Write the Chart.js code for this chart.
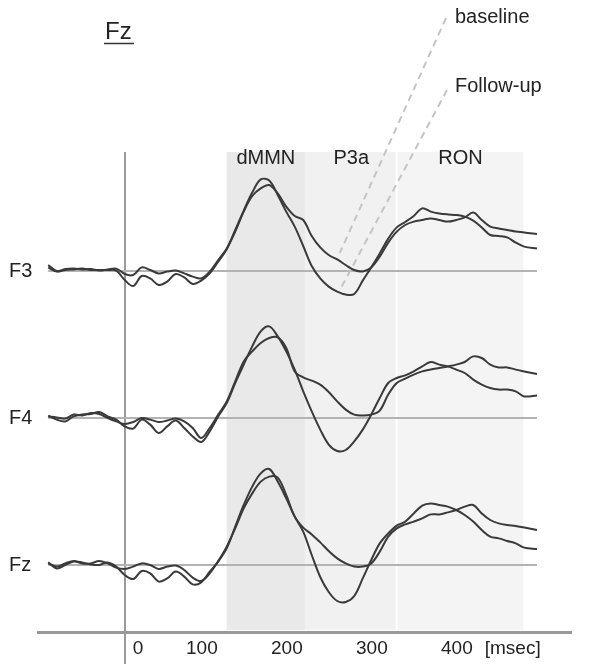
<!DOCTYPE html>
<html>
<head>
<meta charset="utf-8">
<script src="https://cdn.jsdelivr.net/npm/chart.js@4.4.1/dist/chart.umd.min.js"></script>
<style>
  html, body { margin: 0; padding: 0; background: #fff; }
  #erp-chart { display: block; }
</style>
</head>
<body>
<canvas id="erp-chart" width="604" height="664"></canvas>
<script>
// time points (ms) and amplitudes (uV)
const times = [-90, -80, -70, -60, -50, -40, -30, -20, -10, 0,
    10, 20, 30, 40, 50, 60, 70, 80, 90, 100,
    110, 120, 130, 140, 150, 160, 170, 180, 190, 200,
    210, 220, 230, 240, 250, 260, 270, 280, 290, 300,
    310, 320, 330, 340, 350, 360, 370, 380, 390, 400,
    410, 420, 430, 440, 450, 460, 470, 485];

const f3Baseline = [0.30, 0.00, 0.10, 0.13, 0.08, 0.10, 0.02, 0.08, 0.12, -0.15,
    -0.20, 0.18, 0.05, -0.12, -0.03, 0.02, -0.12, -0.28, -0.37, -0.03,
    0.55, 1.13, 1.97, 2.97, 3.75, 4.13, 4.30, 3.88, 3.22, 2.75,
    2.55, 1.75, 1.18, 0.80, 0.58, 0.30, 0.05, -0.02, 0.18, 0.72,
    1.42, 1.97, 2.30, 2.47, 2.55, 2.63, 2.55, 2.47, 2.55, 2.68,
    2.92, 2.55, 2.22, 2.13, 2.05, 1.97, 1.93, 1.85];
const f3FollowUp = [0.18, -0.03, 0.05, 0.08, 0.12, 0.05, 0.05, 0.05, 0.02, -0.45,
    -0.75, -0.25, -0.37, -0.70, -0.53, -0.15, -0.32, -0.65, -0.48, -0.12,
    0.47, 1.08, 2.05, 3.02, 3.92, 4.58, 4.52, 3.80, 2.97, 2.22,
    1.25, 0.25, -0.37, -0.78, -1.03, -1.18, -1.15, -0.48, 0.18, 0.88,
    1.62, 2.18, 2.45, 2.75, 3.13, 2.97, 2.88, 2.83, 2.80, 2.72,
    2.52, 2.18, 1.80, 1.75, 1.68, 1.42, 1.22, 1.13];

const f4Baseline = [0.08, 0.03, -0.03, 0.17, 0.13, 0.25, 0.20, 0.00, -0.17, -0.30,
    -0.20, 0.00, -0.08, -0.20, -0.13, -0.03, -0.17, -0.50, -1.00, -0.50,
    0.17, 0.83, 1.83, 2.83, 3.33, 3.75, 4.00, 4.03, 3.50, 2.33,
    2.03, 1.87, 1.67, 1.30, 0.83, 0.42, 0.17, 0.13, 0.17, 0.37,
    1.17, 1.75, 1.97, 2.17, 2.33, 2.42, 2.50, 2.58, 2.67, 2.80,
    3.08, 3.00, 2.67, 2.53, 2.53, 2.42, 2.33, 2.20];
const f4FollowUp = [0.12, -0.08, -0.17, 0.08, 0.17, 0.20, 0.30, 0.08, -0.08, -0.42,
    -0.53, -0.08, -0.33, -0.75, -0.42, -0.13, -0.50, -0.92, -1.20, -0.67,
    0.08, 0.75, 1.75, 2.67, 3.58, 4.33, 4.58, 4.08, 3.33, 2.42,
    1.33, 0.33, -0.58, -1.33, -1.65, -1.60, -1.17, -0.58, 0.17, 1.00,
    1.75, 2.00, 2.13, 2.33, 2.58, 2.80, 2.67, 2.58, 2.42, 2.25,
    1.92, 1.67, 1.50, 1.42, 1.42, 1.33, 1.08, 1.13];

const fzBaseline = [0.08, -0.08, 0.08, 0.20, 0.08, 0.08, 0.20, 0.08, -0.13, -0.20,
    -0.08, 0.08, 0.00, -0.20, -0.08, -0.03, -0.25, -0.63, -0.80, -0.42,
    0.20, 0.92, 1.83, 2.83, 3.58, 4.17, 4.42, 4.37, 3.50, 2.42,
    1.87, 1.53, 1.13, 0.70, 0.33, 0.08, -0.08, -0.08, 0.08, 0.67,
    1.42, 1.83, 2.03, 2.17, 2.33, 2.53, 2.53, 2.63, 2.75, 2.92,
    3.00, 2.58, 2.25, 2.08, 2.00, 1.95, 1.87, 1.75];
const fzFollowUp = [0.13, -0.17, 0.00, 0.17, 0.13, 0.03, 0.00, 0.13, -0.08, -0.50,
    -0.70, -0.30, -0.42, -0.83, -0.67, -0.33, -0.58, -0.97, -0.87, -0.33,
    0.17, 0.83, 1.92, 3.00, 3.92, 4.58, 4.80, 4.17, 3.33, 2.42,
    1.67, 0.50, -0.60, -1.35, -1.80, -1.85, -1.55, -0.67, 0.25, 1.08,
    1.58, 1.97, 2.17, 2.58, 2.97, 3.08, 3.00, 2.92, 2.75, 2.50,
    2.17, 1.75, 1.42, 1.33, 1.20, 1.08, 0.87, 0.80];

const channels = ['F3', 'F4', 'Fz'];
const tickValues = [0, 100, 200, 300, 400];
const windowLabels = ['dMMN', 'P3a', 'RON'];
const windowEdges = [120, 212, 321, 469];

// layout / style
const channelOffsets = [18.05, 10.7, 3.35];
const windowFills = ['#e9e9e9', '#f1f1f1', '#f4f4f4'];
const traceColor = '#3a3a3a';
const font = "'Liberation Sans', Arial, sans-serif";

const traces = [
    [f3Baseline, f3FollowUp],
    [f4Baseline, f4FollowUp],
    [fzBaseline, fzFollowUp]
];

function toPoints(values, offset) {
    return times.map((t, i) => ({x: t, y: values[i] + offset}));
}

const datasets = [];
channels.forEach((name, c) => {
    datasets.push({
        label: name + ' zero',
        data: [{x: times[0], y: channelOffsets[c]}, {x: times[times.length - 1], y: channelOffsets[c]}],
        borderColor: '#b3b3b3',
        borderWidth: 2,
        pointRadius: 0,
        order: 2
    });
    ['baseline', 'Follow-up'].forEach((session, s) => {
        datasets.push({
            label: name + ' ' + session,
            data: toPoints(traces[c][s], channelOffsets[c]),
            borderColor: traceColor,
            borderWidth: 2,
            pointRadius: 0,
            tension: 0.35,
            order: 1
        });
    });
});

const decor = {
    id: 'erpDecor',
    beforeDatasetsDraw(chart) {
        const {ctx, chartArea, scales: {x}} = chart;
        ctx.save();
        for (let i = 0; i < windowLabels.length; i++) {
            const x1 = x.getPixelForValue(windowEdges[i]);
            const x2 = x.getPixelForValue(windowEdges[i + 1]);
            ctx.fillStyle = windowFills[i];
            ctx.fillRect(x1, chartArea.top, x2 - x1 - (i === 1 ? 2 : 0), chartArea.bottom - chartArea.top - 2);
        }
        ctx.restore();
    },
    afterDatasetsDraw(chart) {
        const {ctx, chartArea, scales: {x, y}} = chart;
        ctx.save();
        ctx.fillStyle = '#222';

        // window names
        ctx.font = '20px ' + font;
        ctx.textAlign = 'center';
        ctx.textBaseline = 'alphabetic';
        windowLabels.forEach((label, i) => {
            const cx = (x.getPixelForValue(windowEdges[i]) + x.getPixelForValue(windowEdges[i + 1])) / 2;
            ctx.fillText(label, cx, chartArea.top + 12);
        });

        // channel names
        ctx.textAlign = 'left';
        ctx.textBaseline = 'middle';
        channels.forEach((name, c) => {
            ctx.fillText(name, 9, y.getPixelForValue(channelOffsets[c]));
        });

        // tick labels
        ctx.font = '19px ' + font;
        ctx.textBaseline = 'alphabetic';
        tickValues.forEach(v => {
            const px = x.getPixelForValue(v);
            ctx.textAlign = v === 0 ? 'left' : 'right';
            ctx.fillText(String(v), px + 8, 654);
        });
        ctx.textAlign = 'left';
        ctx.fillText('[msec]', x.getPixelForValue(400) + 20, 654);

        // title
        ctx.font = '24px ' + font;
        ctx.fillText('Fz', 105, 39);
        ctx.strokeStyle = '#333';
        ctx.lineWidth = 1.5;
        ctx.beginPath();
        ctx.moveTo(104, 43.5);
        ctx.lineTo(134, 43.5);
        ctx.stroke();

        // session labels with dashed leaders
        ctx.font = '20px ' + font;
        ctx.fillText('baseline', 455, 23);
        ctx.fillText('Follow-up', 455, 92);
        ctx.strokeStyle = '#c4c4c4';
        ctx.lineWidth = 2;
        ctx.setLineDash([7, 5]);
        ctx.beginPath();
        ctx.moveTo(446, 18);
        ctx.lineTo(x.getPixelForValue(253), y.getPixelForValue(18.95));
        ctx.moveTo(447, 90);
        ctx.lineTo(x.getPixelForValue(255), y.getPixelForValue(17.25));
        ctx.stroke();
        ctx.restore();
    }
};

new Chart(document.getElementById('erp-chart'), {
    type: 'line',
    data: {datasets: datasets},
    options: {
        responsive: false,
        animation: false,
        layout: {
            padding: {left: 38, right: 33, top: 152, bottom: 0}
        },
        scales: {
            x: {
                type: 'linear',
                min: -102,
                max: 525,
                afterBuildTicks(scale) {
                    scale.ticks = tickValues.map(v => ({value: v}));
                },
                grid: {
                    color: ctx => (ctx.tick && ctx.tick.value === 0 ? '#9a9a9a' : 'rgba(0,0,0,0)'),
                    lineWidth: 2,
                    tickLength: 32
                },
                border: {display: true, color: '#999', width: 3},
                ticks: {display: false}
            },
            y: {
                display: false,
                min: 0,
                max: 24
            }
        },
        plugins: {
            legend: {display: false},
            tooltip: {enabled: false}
        }
    },
    plugins: [decor]
});
</script>
</body>
</html>
